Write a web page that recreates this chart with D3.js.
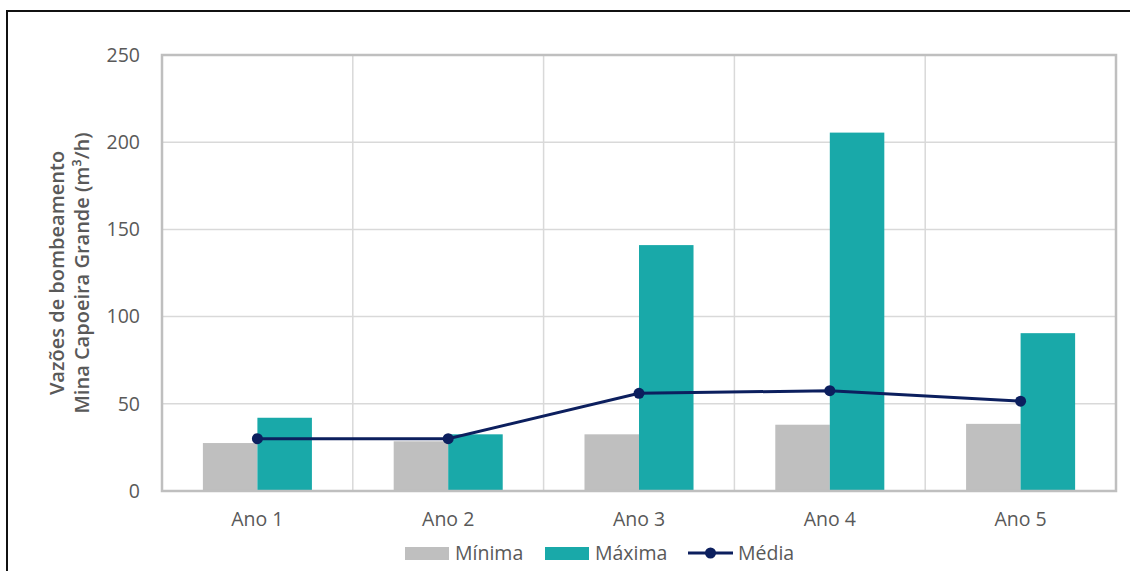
<!DOCTYPE html>
<html>
<head>
<meta charset="utf-8">
<script src="https://cdn.jsdelivr.net/npm/d3@7"></script>
<style>
  html, body { margin: 0; padding: 0; background: #fff; }
  svg { display: block; }
  text { font-family: "Open Sans", "Noto Sans", sans-serif; }
</style>
</head>
<body>
<svg id="chart" width="1130" height="571"></svg>
<script>
const categories = ["Ano 1", "Ano 2", "Ano 3", "Ano 4", "Ano 5"];
const minima = [27.5, 28.5, 32.5, 38, 38.5];
const maxima = [42, 32.5, 141, 205.5, 90.5];
const media = [30, 30, 56, 57.5, 51.5];
const yTicks = [0, 50, 100, 150, 200, 250];
const seriesNames = ["Mínima", "Máxima", "Média"];
const yTitle = ["Vazões de bombeamento", "Mina Capoeira Grande (m³/h)"];

const colors = { min: "#bfbfbf", max: "#19a9a9", avg: "#0c1f5e", grid: "#d9d9d9", frame: "#bfbfbf", text: "#595959" };
const FS = 19.5;

const svg = d3.select("#chart");
const W = 1130, H = 571;
const m = { left: 162, right: 1116, top: 55, bottom: 491 };

// outer border
svg.append("path")
  .attr("d", `M7,${H} L7,11 L${W},11`)
  .attr("fill", "none").attr("stroke", "#111").attr("stroke-width", 2);

const x = d3.scaleBand().domain(categories).range([m.left, m.right]).paddingInner(0).paddingOuter(0);
const xs = d3.scaleBand().domain(["min", "max"]).range([0, x.bandwidth()]).paddingInner(0).paddingOuter(0.75);
const y = d3.scaleLinear().domain([0, 250]).range([m.bottom, m.top]);

// horizontal gridlines
svg.append("g").selectAll("line").data(yTicks.slice(1, -1)).join("line")
  .attr("x1", m.left).attr("x2", m.right)
  .attr("y1", d => y(d)).attr("y2", d => y(d))
  .attr("stroke", colors.grid).attr("stroke-width", 1.5);

// vertical gridlines at category boundaries
svg.append("g").selectAll("line").data(categories.slice(1)).join("line")
  .attr("x1", d => x(d)).attr("x2", d => x(d))
  .attr("y1", m.top).attr("y2", m.bottom)
  .attr("stroke", colors.grid).attr("stroke-width", 1.5);

// bars
const g = svg.append("g");
categories.forEach((c, i) => {
  g.append("rect")
    .attr("x", x(c) + xs("min")).attr("width", xs.bandwidth())
    .attr("y", y(minima[i])).attr("height", y(0) - y(minima[i]))
    .attr("fill", colors.min);
  g.append("rect")
    .attr("x", x(c) + xs("max")).attr("width", xs.bandwidth())
    .attr("y", y(maxima[i])).attr("height", y(0) - y(maxima[i]))
    .attr("fill", colors.max);
});

// plot frame
svg.append("rect")
  .attr("x", m.left).attr("y", m.top)
  .attr("width", m.right - m.left).attr("height", m.bottom - m.top)
  .attr("fill", "none").attr("stroke", colors.frame).attr("stroke-width", 2.5);

// line
const cx = c => x(c) + x.bandwidth() / 2;
const line = d3.line().x((d, i) => cx(categories[i])).y(d => y(d));
svg.append("path").datum(media)
  .attr("d", line).attr("fill", "none")
  .attr("stroke", colors.avg).attr("stroke-width", 3);
svg.append("g").selectAll("circle").data(media).join("circle")
  .attr("cx", (d, i) => cx(categories[i])).attr("cy", d => y(d)).attr("r", 5.5)
  .attr("fill", colors.avg);

// y axis labels
const yAxis = d3.axisLeft(y).tickValues(yTicks).tickSize(0).tickPadding(22);
const ya = svg.append("g").attr("transform", `translate(${m.left},0)`).call(yAxis);
ya.select(".domain").remove();
ya.selectAll("text").attr("font-size", FS).attr("fill", colors.text)
  .style("font-family", '"Open Sans", sans-serif');

// x axis labels
const xAxis = d3.axisBottom(x).tickSize(0).tickPadding(21);
const xa = svg.append("g").attr("transform", `translate(0,${m.bottom})`).call(xAxis);
xa.select(".domain").remove();
xa.selectAll("text").attr("font-size", FS).attr("fill", colors.text)
  .style("font-family", '"Open Sans", sans-serif');

// y title
const yt = svg.append("text")
  .attr("transform", `translate(64,${(m.top + m.bottom) / 2}) rotate(-90)`)
  .attr("text-anchor", "middle").attr("font-size", 20).attr("font-weight", 600)
  .attr("fill", colors.text);
yTitle.forEach((t, i) => {
  yt.append("tspan").attr("x", 0).attr("dy", i === 0 ? 0 : 25).text(t);
});

// legend
const lg = svg.append("g").attr("transform", "translate(0,553)");
const items = [
  { name: seriesNames[0], type: "rect", color: colors.min, x: 405 },
  { name: seriesNames[1], type: "rect", color: colors.max, x: 545 },
  { name: seriesNames[2], type: "line", color: colors.avg, x: 688 }
];
items.forEach(it => {
  if (it.type === "rect") {
    lg.append("rect").attr("x", it.x).attr("y", -6).attr("width", 44).attr("height", 13).attr("fill", it.color);
  } else {
    lg.append("line").attr("x1", it.x).attr("x2", it.x + 45).attr("y1", 0).attr("y2", 0)
      .attr("stroke", it.color).attr("stroke-width", 3);
    lg.append("circle").attr("cx", it.x + 22.5).attr("cy", 0).attr("r", 5.5).attr("fill", it.color);
  }
  lg.append("text").attr("x", it.x + 50).attr("y", 0).attr("dy", "0.35em")
    .attr("font-size", FS).attr("fill", colors.text).text(it.name);
});
</script>
</body>
</html>
